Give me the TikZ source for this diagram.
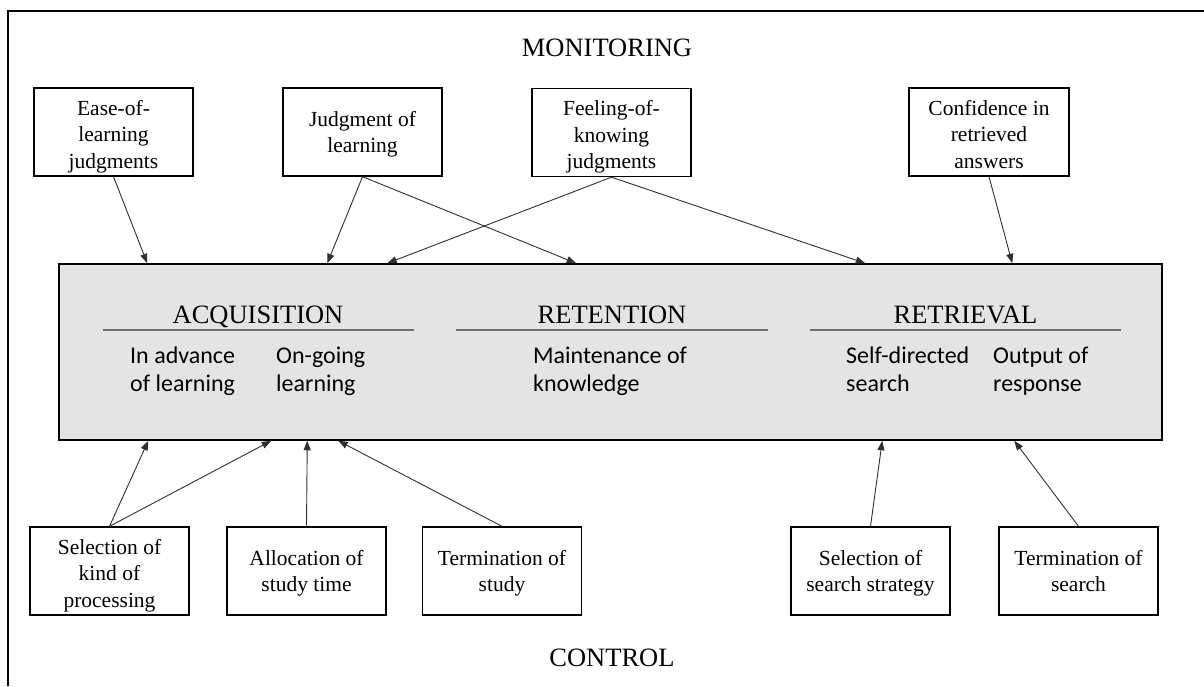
\documentclass[tikz,border=0pt]{standalone}
\usepackage{fontspec}
\setmainfont{Liberation Serif}
\newfontfamily\bodyfont{Carlito}
\usetikzlibrary{arrows.meta,positioning}

\definecolor{panelgray}{HTML}{E4E4E4}
\definecolor{rulegray}{HTML}{707070}
\definecolor{linkgray}{HTML}{303030}

% extra-tall first-line struts push box text slightly below centre
\newcommand\threelinetop{\rule{0pt}{27pt}}
\newcommand\twolinetop{\rule{0pt}{22.5pt}}

\tikzset{
  procbox/.style={draw=black, line width=1.4pt, fill=white, inner sep=0pt,
    minimum width=159pt, minimum height=88pt, align=center,
    font=\fontsize{21.5}{26.5}\selectfont},
  heading/.style={font=\fontsize{26.5}{32}\selectfont, inner sep=0pt},
  phase/.style={font=\fontsize{26.5}{32}\selectfont, inner sep=0pt},
  detail/.style={font=\bodyfont\fontsize{24}{28}\selectfont, align=left,
    anchor=west, inner sep=0pt},
  link/.style={draw=linkgray, line width=0.9pt,
    -{Triangle[length=9.5pt,width=7pt]}},
  divider/.style={draw=rulegray, line width=1.3pt},
}

\begin{document}
\begin{tikzpicture}[x=1pt,y=-1pt]
\useasboundingbox (0,0) rectangle (1204,686);

% outer frame (only the top and left edges fall on the page)
\draw[line width=1.4pt] (8,686) -- (8,11) -- (1204,11);

% monitoring / control titles
\node[heading] (mon) at (607,48) {MONITORING};
\node[heading] (ctl) at (612,658) {CONTROL};

% central panel with the three phases
\node[draw=black, line width=1.5pt, fill=panelgray, inner sep=0pt,
      minimum width=1103pt, minimum height=176pt] (main) at (610.5,352) {};

\node[phase] (acq) at (258,317.5) {ACQUISITION\strut};
\node[phase] (ret) at (612,317.5) {RETENTION\strut};
\node[phase] (rtr) at (965.5,317.5) {RETRIEVAL\strut};

\draw[divider] (103,330) -- (414,330);
\draw[divider] (456,330) -- (768,330);
\draw[divider] (810,330) -- (1121,330);

\node[detail] (adv) at (130,372) {In advance\strut\\of learning\strut};
\node[detail] (ong) at (276,372) {On-going\strut\\learning\strut};
\node[detail] (mnt) at (533,372) {Maintenance of\strut\\knowledge\strut};
\node[detail] (sds) at (846,372) {Self-directed\strut\\search\strut};
\node[detail] (out) at (993,372) {Output of\strut\\response\strut};

% monitoring judgments
\node[procbox] (elj)  at (113.5,132) {\threelinetop Ease-of-\\learning\strut\\judgments\strut};
\node[procbox] (jol)  at (362.5,132) {\twolinetop Judgment of\\learning\strut};
\node[procbox] (fok)  at (611.5,132.5) {\threelinetop Feeling-of-\\knowing\strut\\judgments\strut};
\node[procbox, minimum width=160pt] (conf) at (989,132) {\threelinetop Confidence in\\retrieved\strut\\answers\strut};

% control decisions
\node[procbox] (skp) at (109.5,571) {\threelinetop Selection of\\kind of\strut\\processing\strut};
\node[procbox] (ast) at (306.5,571) {\twolinetop Allocation of\\study time\strut};
\node[procbox] (tst) at (502,571) {\twolinetop Termination of\\study\strut};
\node[procbox] (sss) at (870.5,571) {\twolinetop Selection of\\search strategy\strut};
\node[procbox] (tse) at (1078.5,571) {\twolinetop Termination of\\search\strut};

% monitoring arrows into the panel
\draw[link] (elj.south)  -- ([xshift=89pt]main.north west);
\draw[link] (jol.south)  -- ([xshift=269pt]main.north west);
\draw[link] (jol.south)  -- ([xshift=518pt]main.north west);
\draw[link] (fok.south)  -- ([xshift=329pt]main.north west);
\draw[link] (fok.south)  -- ([xshift=807pt]main.north west);
\draw[link] (conf.south) -- ([xshift=954pt]main.north west);

% control arrows into the panel
\draw[link] (skp.north) -- ([xshift=90pt]main.south west);
\draw[link] (skp.north) -- ([xshift=213pt]main.south west);
\draw[link] (ast.north) -- ([xshift=249pt]main.south west);
\draw[link] (tst.north) -- ([xshift=280pt]main.south west);
\draw[link] (sss.north) -- ([xshift=824pt]main.south west);
\draw[link] (tse.north) -- ([xshift=956pt]main.south west);
\end{tikzpicture}
\end{document}
